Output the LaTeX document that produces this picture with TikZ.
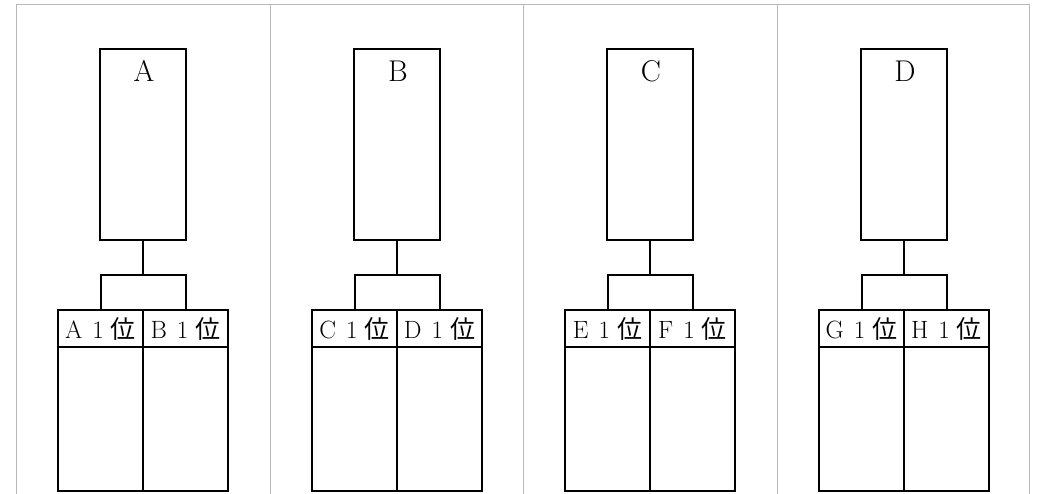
\documentclass[tikz,border=0pt]{standalone}
\usepackage{fontspec}
\newfontfamily\jpfont{Noto Sans CJK JP}
\begin{document}
\begin{tikzpicture}[x=1pt,y=-1pt,
  frame/.style={draw=black!28, line width=1pt},
  topbox/.style={draw, line width=2pt, rectangle, inner sep=0pt, minimum width=86pt, minimum height=191pt},
  headcell/.style={draw, line width=2pt, rectangle, inner sep=0pt, minimum width=85pt, minimum height=37pt, font=\fontsize{25}{27}\selectfont},
  bodycell/.style={draw, line width=2pt, rectangle, inner sep=0pt, minimum width=85pt, minimum height=144pt},
  toplabel/.style={inner sep=0pt, font=\fontsize{30}{33}\selectfont},
  link/.style={line width=2pt}]
\useasboundingbox (0,0) rectangle (1039,494);
% frame
\draw[frame] (16.5,494) -- (16.5,4.5) -- (1029.5,4.5) -- (1029.5,494);
\foreach \gx in {270.5,523.5,777.5}{\draw[frame] (\gx,4.5) -- (\gx,494);}
% columns
\foreach \k/\cx/\T/\L/\R in {0/143/A/A/B,1/397/B/C/D,2/650/C/E/F,3/904/D/G/H}{
  \node[topbox] (top\k) at (\cx,144.5) {};
  \node[toplabel] (lab\k) at (\cx+1,71) {\T};
  \node[headcell] (hl\k) at (\cx-42.5,328.5) {\L\hspace{10pt}1\hspace{7pt}{\jpfont 位}};
  \node[headcell] (hr\k) at (\cx+42.5,328.5) {\R\hspace{10pt}1\hspace{7pt}{\jpfont 位}};
  \node[bodycell] (bl\k) at (\cx-42.5,419) {};
  \node[bodycell] (br\k) at (\cx+42.5,419) {};
  \coordinate (j\k) at (\cx,275);
  \draw[link] (top\k.south) -- (j\k);
  \draw[link] (j\k) -| (hl\k.north);
  \draw[link] (j\k) -| (hr\k.north);
}
\end{tikzpicture}
\end{document}
